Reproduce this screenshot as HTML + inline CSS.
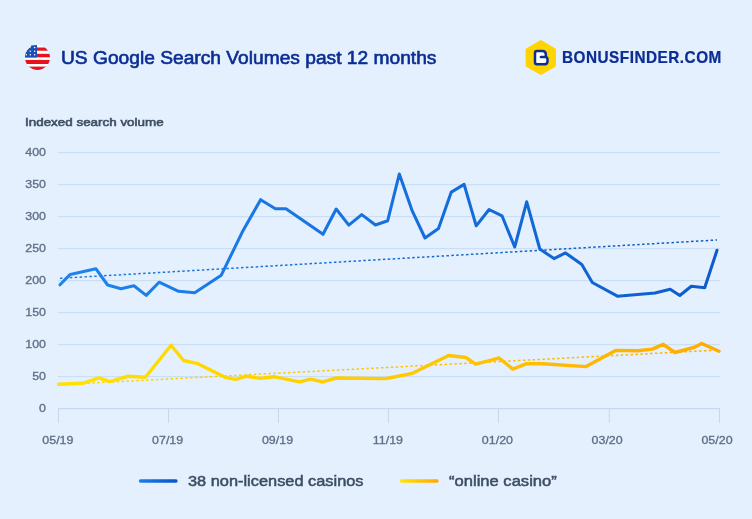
<!DOCTYPE html>
<html><head><meta charset="utf-8"><style>
html,body{margin:0;padding:0;background:#e4f0fe;}
body{width:752px;height:519px;overflow:hidden;position:relative;}
svg{position:absolute;left:0;top:0;will-change:transform;}
text{font-family:"Liberation Sans",sans-serif;}
.ax{font-size:11.2px;fill:#5d6d83;stroke:#5d6d83;stroke-width:0.3px;}
.lg{font-size:14.9px;fill:#3b4c63;stroke:#3b4c63;stroke-width:0.5px;}
.title{font-size:17.8px;fill:#0b2d94;stroke:#0b2d94;stroke-width:0.6px;}
.sub{font-size:11.7px;fill:#3f4f66;stroke:#3f4f66;stroke-width:0.6px;}
.logo{font-size:15.8px;fill:#0b2d94;font-weight:bold;stroke:#0b2d94;stroke-width:0.25px;}
</style></head><body>
<svg width="752" height="519" viewBox="0 0 752 519">
<defs><linearGradient id="gb" x1="58" y1="0" x2="719" y2="0" gradientUnits="userSpaceOnUse"><stop offset="0" stop-color="#1f84ee"/><stop offset="1" stop-color="#0d5ccc"/></linearGradient><linearGradient id="gy" x1="58" y1="0" x2="719" y2="0" gradientUnits="userSpaceOnUse"><stop offset="0" stop-color="#ffe200"/><stop offset="0.5" stop-color="#ffcb00"/><stop offset="1" stop-color="#ffab00"/></linearGradient><linearGradient id="gyt" x1="58" y1="0" x2="719" y2="0" gradientUnits="userSpaceOnUse"><stop offset="0" stop-color="#ffd800"/><stop offset="1" stop-color="#ffb000"/></linearGradient><linearGradient id="gbt" x1="58" y1="0" x2="719" y2="0" gradientUnits="userSpaceOnUse"><stop offset="0" stop-color="#1a7ce8"/><stop offset="1" stop-color="#0d5ac4"/></linearGradient><linearGradient id="lb" x1="140" y1="0" x2="177" y2="0" gradientUnits="userSpaceOnUse"><stop offset="0" stop-color="#1a7ce8"/><stop offset="1" stop-color="#0a55c4"/></linearGradient><linearGradient id="ly" x1="400" y1="0" x2="438" y2="0" gradientUnits="userSpaceOnUse"><stop offset="0" stop-color="#ffe500"/><stop offset="1" stop-color="#ffa800"/></linearGradient></defs>
<line x1="58" y1="152.65" x2="720" y2="152.65" stroke="#cadef6" stroke-width="1.3"/>
<line x1="58" y1="184.65" x2="720" y2="184.65" stroke="#cadef6" stroke-width="1.3"/>
<line x1="58" y1="216.65" x2="720" y2="216.65" stroke="#cadef6" stroke-width="1.3"/>
<line x1="58" y1="248.65" x2="720" y2="248.65" stroke="#cadef6" stroke-width="1.3"/>
<line x1="58" y1="280.65" x2="720" y2="280.65" stroke="#cadef6" stroke-width="1.3"/>
<line x1="58" y1="312.65" x2="720" y2="312.65" stroke="#cadef6" stroke-width="1.3"/>
<line x1="58" y1="344.65" x2="720" y2="344.65" stroke="#cadef6" stroke-width="1.3"/>
<line x1="58" y1="376.65" x2="720" y2="376.65" stroke="#cadef6" stroke-width="1.3"/>
<line x1="58" y1="408.65" x2="720" y2="408.65" stroke="#c6d8f0" stroke-width="1.2"/>
<line x1="58.5" y1="408" x2="58.5" y2="423" stroke="#c6d8f0" stroke-width="1"/>
<line x1="168.5" y1="408" x2="168.5" y2="423" stroke="#c6d8f0" stroke-width="1"/>
<line x1="278.5" y1="408" x2="278.5" y2="423" stroke="#c6d8f0" stroke-width="1"/>
<line x1="388.5" y1="408" x2="388.5" y2="423" stroke="#c6d8f0" stroke-width="1"/>
<line x1="498.5" y1="408" x2="498.5" y2="423" stroke="#c6d8f0" stroke-width="1"/>
<line x1="609.3" y1="408" x2="609.3" y2="423" stroke="#c6d8f0" stroke-width="1"/>
<line x1="719.5" y1="408" x2="719.5" y2="423" stroke="#c6d8f0" stroke-width="1"/>
<text transform="translate(46,156.4) scale(1.1095,1)" x="0" y="0" text-anchor="end" class="ax">400</text>
<text transform="translate(46,188.4) scale(1.1095,1)" x="0" y="0" text-anchor="end" class="ax">350</text>
<text transform="translate(46,220.4) scale(1.1095,1)" x="0" y="0" text-anchor="end" class="ax">300</text>
<text transform="translate(46,252.4) scale(1.1095,1)" x="0" y="0" text-anchor="end" class="ax">250</text>
<text transform="translate(46,284.4) scale(1.1095,1)" x="0" y="0" text-anchor="end" class="ax">200</text>
<text transform="translate(46,316.4) scale(1.1095,1)" x="0" y="0" text-anchor="end" class="ax">150</text>
<text transform="translate(46,348.4) scale(1.1095,1)" x="0" y="0" text-anchor="end" class="ax">100</text>
<text transform="translate(46,380.4) scale(1.1095,1)" x="0" y="0" text-anchor="end" class="ax">50</text>
<text transform="translate(46,412.4) scale(1.1095,1)" x="0" y="0" text-anchor="end" class="ax">0</text>
<text transform="translate(57.85,444) scale(1.112,1)" x="0" y="0" text-anchor="middle" class="ax">05/19</text>
<text transform="translate(167.6,444) scale(1.112,1)" x="0" y="0" text-anchor="middle" class="ax">07/19</text>
<text transform="translate(277.5,444) scale(1.112,1)" x="0" y="0" text-anchor="middle" class="ax">09/19</text>
<text transform="translate(387.9,444) scale(1.112,1)" x="0" y="0" text-anchor="middle" class="ax">11/19</text>
<text transform="translate(497.4,444) scale(1.112,1)" x="0" y="0" text-anchor="middle" class="ax">01/20</text>
<text transform="translate(607.1,444) scale(1.112,1)" x="0" y="0" text-anchor="middle" class="ax">03/20</text>
<text transform="translate(717,444) scale(1.112,1)" x="0" y="0" text-anchor="middle" class="ax">05/20</text>
<line x1="60" y1="278.3" x2="717" y2="240" stroke="url(#gbt)" stroke-width="1.5" stroke-dasharray="2.5 2.4"/>
<line x1="58" y1="384.8" x2="717" y2="350.1" stroke="url(#gyt)" stroke-width="1.5" stroke-dasharray="2.5 2.4"/>
<polyline points="60,284.8 70.2,274.4 96,268.8 107.6,285 121,288.7 133.9,285.8 146.2,295.4 159.1,282.2 178.6,291.3 194.7,292.8 221.3,275.2 242.4,231.8 260.6,199.7 275.4,208.7 286,208.7 323,234.3 336.2,209 348.8,225.1 361.7,214.6 375.5,225 387.7,220.7 399.3,174 412,210.3 425,238 438.5,228.5 451.3,192.1 464.1,184.4 476.2,225.9 489.1,209.5 502,215.8 514.7,247 526.7,201.8 539.8,249 554,258.6 565.5,252.9 581.8,264.4 592.3,282.5 617.4,296.2 655,293 670.2,289.3 679.8,295.5 691.3,286.2 704.7,287.8 717,250.3" fill="none" stroke="url(#gb)" stroke-width="3.05" stroke-linejoin="round" stroke-linecap="round"/>
<polyline points="58.6,384.3 82.7,383.3 98.7,377.8 109.8,381.6 128.2,376.2 145.4,377.3 171.1,345.2 183.5,360.5 197.9,363.7 225,377.3 235.4,379.4 247,376.2 260.2,378.4 273.9,376.7 299.5,381.8 310.6,379.1 322.6,381.8 336.2,378 385.5,378.6 411.9,373.5 448.6,355.5 465.9,357.5 475.5,364.2 490.3,360.3 499.1,358 512.7,369.1 526.2,363.8 543,363.8 586,366.6 615.6,350.4 637.8,350.7 652.3,349.1 663.3,344.3 674.9,352.5 694,347.4 701.7,343.5 719,351.3" fill="none" stroke="url(#gy)" stroke-width="3.4" stroke-linejoin="round" stroke-linecap="round"/>
<line x1="140.5" y1="481" x2="176" y2="481" stroke="url(#lb)" stroke-width="3.3" stroke-linecap="round"/>
<text transform="translate(188,486) scale(1.0989,1)" x="0" y="0" class="lg">38 non-licensed casinos</text>
<line x1="401.5" y1="481" x2="437" y2="481" stroke="url(#ly)" stroke-width="3.3" stroke-linecap="round"/>
<text transform="translate(449,486) scale(1.1132,1)" x="0" y="0" class="lg">“online casino”</text>
<text transform="translate(61,64) scale(1.0788,1)" x="0" y="0" class="title">US Google Search Volumes past 12 months</text>
<text transform="translate(25,125.9) scale(1.1464,1)" x="0" y="0" class="sub">Indexed search volume</text>
<clipPath id="fc"><circle cx="37.5" cy="57.5" r="12.5"/></clipPath>
<g clip-path="url(#fc)"><rect x="25" y="45" width="25" height="25" fill="#fff"/><rect x="25" y="47.5" width="25" height="3.200000000000003" fill="#e4141f"/><rect x="25" y="53.8" width="25" height="3.5" fill="#e4141f"/><rect x="25" y="59.9" width="25" height="4.100000000000001" fill="#e4141f"/><rect x="25" y="66.6" width="25" height="3.4000000000000057" fill="#e4141f"/></g><path d="M37 45 L31.2 45.6 Q31 45.8 31 46.2 L30.9 47.5 Q27.6 48.8 25.9 52.6 Q25.1 54.6 25 57.5 L37 57.5 Z" fill="#1a4fb5"/><g><circle cx="34.6" cy="47.6" r="0.75" fill="#fff"/><circle cx="30.3" cy="51.2" r="0.75" fill="#fff"/><circle cx="34.6" cy="51.2" r="0.75" fill="#fff"/><circle cx="30.3" cy="54.7" r="0.75" fill="#fff"/><circle cx="34.6" cy="54.7" r="0.75" fill="#fff"/><circle cx="26.3" cy="54.7" r="0.75" fill="#fff"/></g>
<path d="M540.8 42.3 L554 49.9 L554 65.2 L540.8 72.8 L527.6 65.2 L527.6 49.9 Z" fill="#ffd400" stroke="#ffd400" stroke-width="4" stroke-linejoin="round"/>
<path d="M535 53 Q535 50.95 537 50.95 H542.3 Q545.85 50.95 545.85 54.4 V56.9 Q547.55 57.2 547.55 60 V60.9 Q547.55 64.35 544 64.35 H537 Q535 64.35 535 62.3 Z M545.6 56.9 H540.9" fill="#fff" stroke="#0d2f91" stroke-width="2.5" stroke-linejoin="round" stroke-linecap="round"/>
<text transform="translate(562,63.1) scale(0.97,1)" x="0" y="0" class="logo" style="letter-spacing:0.523px">BONUSFINDER.COM</text>
</svg>
</body></html>
